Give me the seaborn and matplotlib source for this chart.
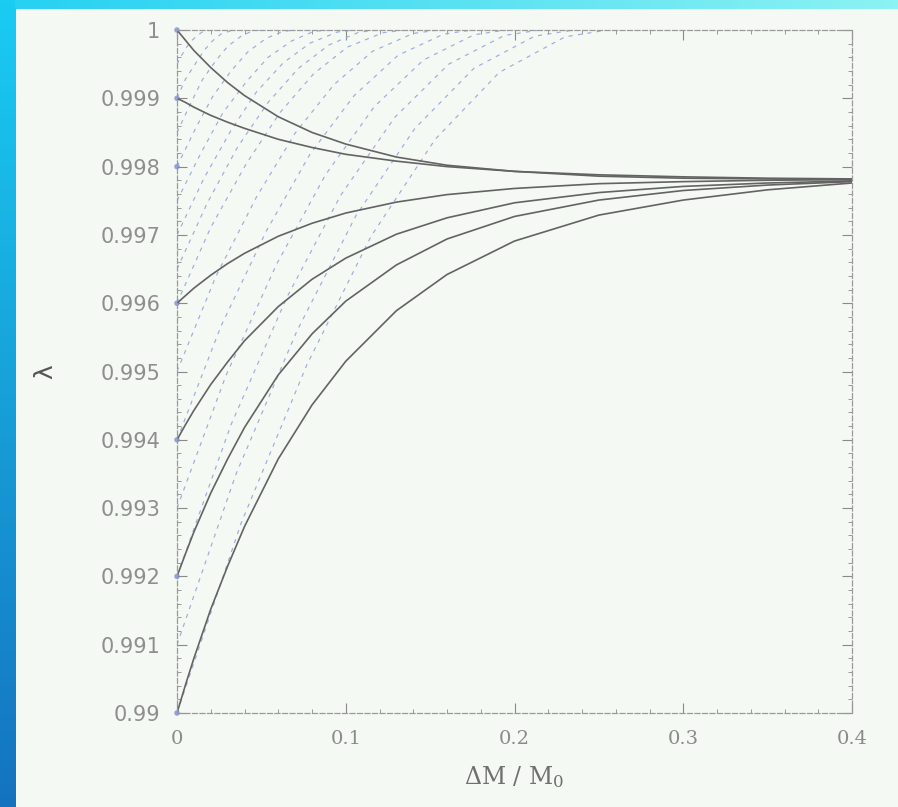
import numpy as np
import pandas as pd
import matplotlib
matplotlib.use("Agg")
import matplotlib.pyplot as plt
from matplotlib.ticker import MultipleLocator, FixedLocator
import seaborn as sns

# ---------------- data ----------------
x_solid = [0.0, 0.005, 0.01, 0.02, 0.03, 0.04, 0.06, 0.08, 0.10, 0.13, 0.16, 0.20, 0.25, 0.30, 0.35, 0.40]
solid_1000 = [1.0, 0.99985, 0.99970, 0.99945, 0.99923, 0.99904, 0.99873, 0.99850, 0.99833, 0.99814, 0.99802, 0.99793, 0.99786, 0.99783, 0.99782, 0.99781]
solid_0999 = [0.999, 0.99894, 0.99887, 0.99875, 0.99865, 0.99856, 0.99840, 0.99828, 0.99818, 0.99808, 0.99800, 0.99793, 0.99788, 0.99785, 0.99783, 0.99782]
solid_0996 = [0.996, 0.99611, 0.99622, 0.99641, 0.99658, 0.99673, 0.99698, 0.99717, 0.99732, 0.99748, 0.99759, 0.99768, 0.99775, 0.99778, 0.99780, 0.99781]
solid_0994 = [0.994, 0.99422, 0.99443, 0.99481, 0.99514, 0.99545, 0.99595, 0.99635, 0.99666, 0.99701, 0.99725, 0.99747, 0.99762, 0.99771, 0.99776, 0.99779]
solid_0992 = [0.992, 0.99233, 0.99265, 0.99322, 0.99372, 0.99418, 0.99495, 0.99555, 0.99603, 0.99656, 0.99694, 0.99727, 0.99751, 0.99765, 0.99773, 0.99778]
solid_0990 = [0.990, 0.99041, 0.99080, 0.99152, 0.99215, 0.99273, 0.99372, 0.99451, 0.99515, 0.99589, 0.99642, 0.99691, 0.99729, 0.99751, 0.99766, 0.99776]
solid_curves = {"1.000": solid_1000, "0.999": solid_0999, "0.996": solid_0996,
                "0.994": solid_0994, "0.992": solid_0992, "0.990": solid_0990}

dash_x = {
    "d01": [0, 0.003, 0.006, 0.009, 0.012, 0.015, 0.018, 0.020],
    "d02": [0, 0.005, 0.011, 0.016, 0.021, 0.026, 0.032, 0.035],
    "d03": [0, 0.008, 0.015, 0.023, 0.030, 0.038, 0.045, 0.050],
    "d04": [0, 0.011, 0.021, 0.032, 0.042, 0.053, 0.063, 0.070],
    "d05": [0, 0.014, 0.027, 0.041, 0.054, 0.068, 0.081, 0.090],
    "d06": [0, 0.016, 0.032, 0.047, 0.063, 0.079, 0.095, 0.105],
    "d07": [0, 0.018, 0.036, 0.054, 0.072, 0.090, 0.108, 0.120],
    "d08": [0, 0.020, 0.041, 0.061, 0.081, 0.101, 0.122, 0.135],
    "d09": [0, 0.023, 0.047, 0.070, 0.093, 0.116, 0.140, 0.155],
    "d10": [0, 0.026, 0.053, 0.079, 0.105, 0.131, 0.158, 0.175],
    "d11": [0, 0.029, 0.059, 0.088, 0.117, 0.146, 0.176, 0.195],
    "d12": [0, 0.032, 0.065, 0.097, 0.129, 0.161, 0.194, 0.215],
    "d13": [0, 0.035, 0.071, 0.106, 0.141, 0.176, 0.212, 0.235],
    "d14": [0, 0.038, 0.077, 0.115, 0.153, 0.191, 0.230, 0.255],
}
dash_y = {
    "d01": [0.9995, 0.99964, 0.99976, 0.99985, 0.99992, 0.99997, 0.99999, 1.0],
    "d02": [0.9990, 0.99928, 0.99951, 0.99970, 0.99984, 0.99994, 0.99999, 1.0],
    "d03": [0.9985, 0.99892, 0.99927, 0.99955, 0.99976, 0.99991, 0.99999, 1.0],
    "d04": [0.9980, 0.99856, 0.99902, 0.99940, 0.99968, 0.99988, 0.99998, 1.0],
    "d05": [0.9975, 0.99819, 0.99878, 0.99924, 0.99960, 0.99984, 0.99998, 1.0],
    "d06": [0.9970, 0.99783, 0.99853, 0.99909, 0.99952, 0.99981, 0.99997, 1.0],
    "d07": [0.9965, 0.99747, 0.99829, 0.99894, 0.99944, 0.99978, 0.99997, 1.0],
    "d08": [0.9960, 0.99711, 0.99804, 0.99879, 0.99936, 0.99975, 0.99996, 1.0],
    "d09": [0.9950, 0.99639, 0.99755, 0.99849, 0.99920, 0.99969, 0.99995, 1.0],
    "d10": [0.9940, 0.99566, 0.99706, 0.99819, 0.99904, 0.99963, 0.99994, 1.0],
    "d11": [0.9930, 0.99494, 0.99657, 0.99788, 0.99888, 0.99956, 0.99993, 1.0],
    "d12": [0.9920, 0.99422, 0.99608, 0.99758, 0.99872, 0.99950, 0.99992, 1.0],
    "d13": [0.9910, 0.99350, 0.99559, 0.99728, 0.99856, 0.99944, 0.99991, 1.0],
    "d14": [0.9900, 0.99278, 0.99510, 0.99698, 0.99840, 0.99938, 0.99990, 1.0],
}

marker_x = [0.0, 0.0, 0.0, 0.0, 0.0, 0.0, 0.0]
marker_y = [1.0, 0.999, 0.998, 0.996, 0.994, 0.992, 0.990]

x_ticks = [0.0, 0.1, 0.2, 0.3, 0.4]
x_ticklabels = ["0", "0.1", "0.2", "0.3", "0.4"]
y_ticks = [0.990, 0.991, 0.992, 0.993, 0.994, 0.995, 0.996, 0.997, 0.998, 0.999, 1.0]
y_ticklabels = ["0.99", "0.991", "0.992", "0.993", "0.994", "0.995",
                "0.996", "0.997", "0.998", "0.999", "1"]

# ---------------- frames ----------------
solid_df = pd.concat([pd.DataFrame({"x": x_solid, "y": v, "curve": k})
                      for k, v in solid_curves.items()], ignore_index=True)
dash_df = pd.concat([pd.DataFrame({"x": dash_x[k], "y": dash_y[k], "curve": k})
                     for k in dash_x], ignore_index=True)
marker_df = pd.DataFrame({"x": marker_x, "y": marker_y})

# ---------------- figure ----------------
sns.set_theme(style="white")
plt.rcParams["font.family"] = ["DejaVu Sans"]
plt.rcParams["mathtext.fontset"] = "dejavuserif"

W, H, DPI = 898, 807, 100
fig = plt.figure(figsize=(W / DPI, H / DPI), dpi=DPI)
bg = "#f4f9f3"
fig.patch.set_facecolor(bg)

# slide frame (left blue band, top cyan band)
band_ax = fig.add_axes([0, 0, 15 / W, 1])
grad = np.linspace(0, 1, 200)[:, None]
top_c = np.array([0.10, 0.80, 0.95])
bot_c = np.array([0.08, 0.45, 0.75])
img = (top_c * (1 - grad) + bot_c * grad)[:, None, :]
band_ax.imshow(np.repeat(img, 2, axis=1), aspect="auto")
band_ax.axis("off")
top_ax = fig.add_axes([15 / W, 1 - 9 / H, 1 - 15 / W, 9 / H])
gx = np.linspace(0, 1, 200)[None, :]
lc = np.array([0.15, 0.82, 0.95])
rc = np.array([0.55, 0.95, 0.95])
img2 = (lc * (1 - gx[..., None]) + rc * gx[..., None])
top_ax.imshow(np.repeat(img2, 2, axis=0), aspect="auto")
top_ax.axis("off")

ax = fig.add_axes([177 / W, 1 - 713 / H, (852 - 177) / W, (713 - 30) / H])
ax.set_facecolor(bg)

sns.lineplot(data=dash_df, x="x", y="y", units="curve", estimator=None,
             color="#9eacdb", linewidth=0.85, ax=ax, legend=False, sort=False)
for ln in ax.get_lines():
    ln.set_linestyle((0, (3.5, 4.5)))

sns.lineplot(data=solid_df, x="x", y="y", units="curve", estimator=None,
             color="#636363", linewidth=1.2, ax=ax, legend=False, sort=False)

sns.scatterplot(data=marker_df, x="x", y="y", color="#6f7fd0", s=16,
                edgecolor="none", alpha=0.7, ax=ax, legend=False, clip_on=False)

ax.set_xlim(0, 0.4)
ax.set_ylim(0.99, 1.0)

ax.xaxis.set_major_locator(FixedLocator(x_ticks))
ax.set_xticklabels(x_ticklabels, fontsize=14, color="#8a8a8a", family="DejaVu Serif")
ax.xaxis.set_minor_locator(MultipleLocator(0.02))
ax.yaxis.set_major_locator(FixedLocator(y_ticks))
ax.set_yticklabels(y_ticklabels, fontsize=15, color="#8e8e8e")
ax.yaxis.set_minor_locator(MultipleLocator(0.0002))

ax.tick_params(which="both", direction="in", top=True, right=True,
               bottom=True, left=True, colors="#8a8a8a")
ax.tick_params(which="major", length=7, width=0.8)
ax.tick_params(which="minor", length=3, width=0.6)
ax.tick_params(axis="x", which="major", pad=12, labelcolor="#8a8a8a")
ax.tick_params(axis="y", which="major", pad=12, labelcolor="#8e8e8e")

for sp in ax.spines.values():
    sp.set_color("#9a9a9a")
    sp.set_linewidth(0.9)
    sp.set_linestyle((0, (4, 2)))

ax.set_xlabel(r"$\Delta\mathrm{M}\ /\ \mathrm{M}_0$", fontsize=17, color="#707070")
ax.xaxis.set_label_coords(0.5, -0.075)
ax.set_ylabel("λ", fontsize=18, color="#555555")
ax.yaxis.set_label_coords(-0.178, 0.5)

fig.savefig("out.png", dpi=DPI, facecolor=fig.get_facecolor())
